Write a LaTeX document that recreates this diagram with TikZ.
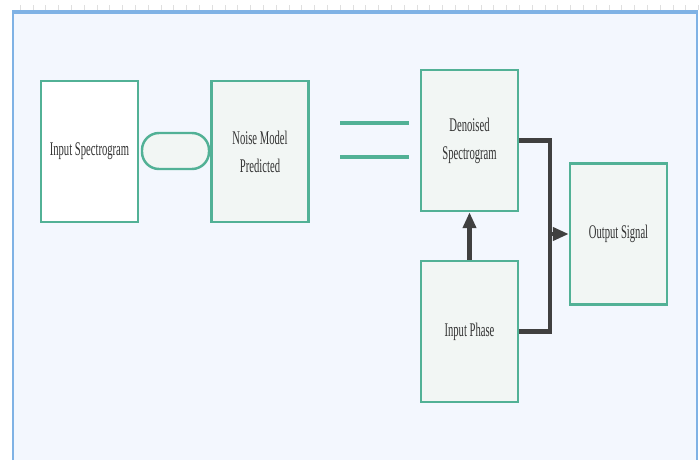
\documentclass[tikz,border=0pt]{standalone}
\usepackage{fontspec}
\setmainfont[FakeStretch=0.55]{Liberation Serif}
\usepackage{tikz}
\usetikzlibrary{
  arrows.meta,
  positioning,
  calc
}
\definecolor{verde}{HTML}{52B196}
\definecolor{fundo}{HTML}{F3F7FE}
\definecolor{caixafundo}{HTML}{F2F6F4}
\definecolor{moldura}{HTML}{7FB2E5}
\definecolor{cinza}{HTML}{404040}

\begin{document}
\begin{tikzpicture}[
    x=0.02cm, y=-0.02cm,
    bloco/.style={
    draw=verde,
    line width=1.4pt,
    minimum width=1.94cm,
    minimum height=2.82cm,
    align=center,
    fill=caixafundo,
    font=\fontsize{11}{16}\selectfont,
    text=black!80
    },
    pilula/.style={
    draw=verde,
    line width=1.4pt,
    rounded corners=0.34cm,
    minimum width=1.34cm,
    minimum height=0.72cm,
    fill=caixafundo
    },
    traco/.style={verde,line width=1.8pt},
    liga/.style={cinza,line width=2.6pt},
    seta/.style={liga,-{Triangle[length=0.32cm,width=0.26cm]}}
    ]

    % fundo e moldura
    \useasboundingbox (0,0) rectangle (699,460);
    \fill[white] (0,0) rectangle (699,460);
    \foreach \i in {0,...,53}
      \draw[gray!25,line width=0.3pt] ({20+12.8*\i},5) -- ({20+12.8*\i},10);
    \fill[fundo] (13,11) rectangle (697,460);
    \draw[moldura,line width=0.6pt] (13,460) -- (13,11) -- (697,11) -- (697,460);
    \draw[moldura,line width=2pt] (13,12.5) -- (697,12.5);

    \node[bloco,fill=white] (espectro) at (89.5,151.5)
    {Input Spectrogram};

    \node[pilula] (pilula) at (175.5,151) {};

    \node[bloco] (ruido) at (260,151.5)
    {Noise Model\\Predicted};

    \coordinate (t1a) at (340,123);
    \coordinate (t1b) at (409,123);
    \coordinate (t2a) at (340,157);
    \coordinate (t2b) at (409,157);
    \draw[traco] (t1a) -- (t1b);
    \draw[traco] (t2a) -- (t2b);

    \node[bloco] (limpo) at (469.5,140.5)
    {Denoised\\Spectrogram};

    \node[bloco] (fase) at (469.5,331.5)
    {Input Phase};

    \node[bloco] (saida) at (618.5,234)
    {Output Signal};

    \coordinate (juncao) at (550,234);

    \draw[seta] (fase) -- (limpo);
    \draw[liga] (limpo.east) -| (juncao) |- (fase.east);
    \draw[seta] (juncao) -- (saida);

    \end{tikzpicture}
\end{document}
